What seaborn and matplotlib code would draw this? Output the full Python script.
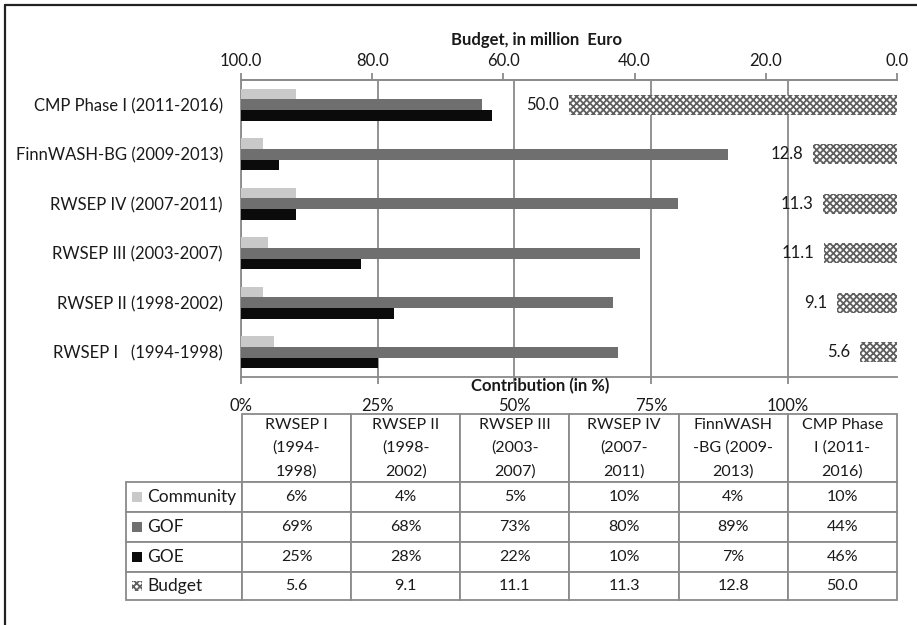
import pandas as pd
import matplotlib.pyplot as plt
import seaborn as sns
from matplotlib.lines import Line2D
from matplotlib.patches import Rectangle

# Data (chronological order, as in the table)
projects = ["RWSEP I   (1994-1998)", "RWSEP II (1998-2002)", "RWSEP III (2003-2007)",
            "RWSEP IV (2007-2011)", "FinnWASH-BG (2009-2013)", "CMP Phase I (2011-2016)"]
col_headers = ["RWSEP I\n(1994-\n1998)", "RWSEP II\n(1998-\n2002)", "RWSEP III\n(2003-\n2007)",
               "RWSEP IV\n(2007-\n2011)", "FinnWASH\n-BG (2009-\n2013)", "CMP Phase\nI (2011-\n2016)"]
community = [6, 4, 5, 10, 4, 10]
gof = [69, 68, 73, 80, 89, 44]
goe = [25, 28, 22, 10, 7, 46]
budget = [5.6, 9.1, 11.1, 11.3, 12.8, 50.0]

sources = ["Community", "GOF", "GOE"]
colors = {"Community": "#c9c9c9", "GOF": "#6f6f6f", "GOE": "#0b0b0b"}
hatch_col = "#606060"
line_col = "#8a8a8a"
txt_col = "#1a1a1a"

sns.set_style("white")
plt.rcParams["font.family"] = ["Lato", "DejaVu Sans"]
plt.rcParams["hatch.linewidth"] = 1.3

# long table for seaborn
rows = []
for src, vals in zip(sources, [community, gof, goe]):
    for p, v in zip(projects, vals):
        rows.append({"project": p, "source": src, "pct": v})
df = pd.DataFrame(rows)
order = projects[::-1]  # top to bottom in the chart

W, H = 917, 625
fig = plt.figure(figsize=(W / 100, H / 100), dpi=100)
ax = fig.add_axes([241 / W, 1 - 377 / H, 656 / W, 297 / H])

# contribution bars (percent scale)
sns.barplot(data=df, y="project", x="pct", hue="source", order=order, hue_order=sources,
            palette=colors, orient="h", width=0.64, saturation=1, linewidth=0,
            legend=False, ax=ax, zorder=3)
ax.set_xlim(0, 120)
ax.set_xticks([0, 25, 50, 75, 100])
ax.set_xticklabels(["0%", "25%", "50%", "75%", "100%"])
ax.grid(axis="x", color=line_col, lw=1.3, zorder=0)
ax.set_axisbelow(True)
ax.set_xlabel("")
ax.set_ylabel("")

# budget bars (million Euro, reversed scale on top)
ax2 = ax.twiny()
sns.barplot(y=order, x=budget[::-1], orient="h", width=0.4, color="white", saturation=1,
            edgecolor=hatch_col, linewidth=0, hatch="xxxxx", ax=ax2, zorder=3)
ax2.set_xlim(100, 0)
ax2.set_xticks([100, 80, 60, 40, 20, 0])
ax2.set_xticklabels(["100.0", "80.0", "60.0", "40.0", "20.0", "0.0"])
ax2.set_ylim(5.5, -0.5)
for i, b in enumerate(budget[::-1]):
    ax2.annotate(f"{b:.1f}", xy=(b, i), xytext=(-7, 0), textcoords="offset points",
                 ha="right", va="center", fontsize=12, color=txt_col)

for a in (ax, ax2):
    a.spines["right"].set_visible(False)
    for s in ("top", "bottom", "left"):
        a.spines[s].set_color(line_col)
        a.spines[s].set_linewidth(1.3)
ax2.spines["bottom"].set_visible(False)
ax2.spines["left"].set_visible(False)

ax.set_yticks(range(len(order)))
ax.set_yticklabels(order)
ax.set_yticks([i - 0.5 for i in range(len(order) + 1)], minor=True)
ax.tick_params(axis="y", which="major", length=0, pad=13, labelsize=12, labelcolor=txt_col)
ax.tick_params(axis="y", which="minor", length=6, width=1.3, color=line_col, direction="out")
ax.tick_params(axis="x", which="major", length=5, width=1.3, color=line_col, pad=10,
               labelsize=12, labelcolor=txt_col)
ax2.tick_params(axis="x", length=5, width=1.3, color=line_col, pad=3,
                labelsize=12, labelcolor=txt_col)

ax.text(0.456, -0.03, "Contribution (in %)", transform=ax.transAxes, ha="center", va="center",
        fontsize=12, fontweight="bold", color=txt_col)
ax.text(0.451, 1.135, "Budget, in million  Euro", transform=ax.transAxes, ha="center",
        va="center", fontsize=12, fontweight="bold", color=txt_col)

# data table
axt = fig.add_axes([126 / W, 1 - 600 / H, 771 / W, 186 / H])
axt.axis("off")
cell_text = [[""] + col_headers]
for lab, vals, fmt in [("Community", community, "{}%"), ("GOF", gof, "{}%"),
                       ("GOE", goe, "{}%"), ("Budget", budget, "{:.1f}")]:
    cell_text.append([""] + [fmt.format(v) for v in vals])
tab = axt.table(cellText=cell_text, cellLoc="center", bbox=[0, 0, 1, 1])
tab.auto_set_font_size(False)
tab.set_fontsize(11.5)
col_w = [116] + [109.2] * 6
row_h = [68, 30, 30, 30, 28]
for (r, c), cell in tab.get_celld().items():
    cell.set_width(col_w[c])
    cell.set_height(row_h[r])
    cell.set_edgecolor(line_col)
    cell.set_linewidth(1.3)
    cell.get_text().set_color(txt_col)
    cell.get_text().set_linespacing(1.8)
tab[0, 0].visible_edges = ""

# row labels with legend keys
y_top = 186.0
yc = y_top - 68
for lab, hgt in zip(["Community", "GOF", "GOE", "Budget"], row_h[1:]):
    ymid = (yc - hgt / 2) / y_top
    yc -= hgt
    axt.text(21 / 771, ymid, lab, transform=axt.transAxes, ha="left", va="center",
             fontsize=12.5, color=txt_col)
    if lab == "Budget":
        key = Rectangle((6 / 771, ymid - 5 / 186), 10 / 771, 10 / 186, transform=axt.transAxes,
                        facecolor="white", edgecolor=hatch_col, hatch="xxxxx", lw=0)
    else:
        key = Rectangle((6 / 771, ymid - 5 / 186), 10 / 771, 10 / 186, transform=axt.transAxes,
                        facecolor=colors[lab], lw=0)
    axt.add_patch(key)

# outer frame (left and top edges)
fig.add_artist(Line2D([5 / W, 5 / W], [0, 1 - 5 / H], transform=fig.transFigure,
                      color="#222222", lw=1.6))
fig.add_artist(Line2D([5 / W, 1], [1 - 5 / H, 1 - 5 / H], transform=fig.transFigure,
                      color="#222222", lw=1.6))

fig.savefig("out.png", dpi=100, facecolor="white")
